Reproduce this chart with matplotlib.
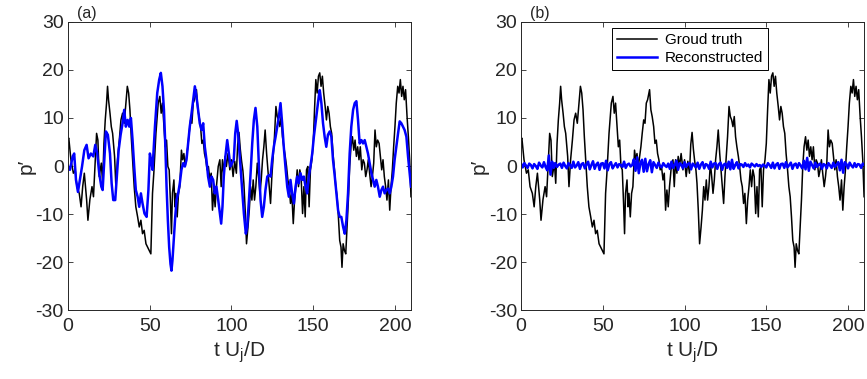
import numpy as np
import matplotlib
matplotlib.use('Agg')
import matplotlib.pyplot as plt

t_true = [0.0, 0.5, 1.8, 3.3, 4.4, 5.5, 6.9, 8.0, 9.0, 10.0, 11.4, 12.2, 13.4, 14.7, 15.6,
          16.7, 17.5, 18.3, 19.1, 20.4, 21.2, 22.0, 22.8, 23.6, 24.2, 24.8, 25.7, 26.5, 27.3,
          28.5, 29.3, 30.3, 31.4, 32.4, 33.4, 34.4, 35.4, 36.3, 37.1, 37.9, 38.7, 39.5, 40.5,
          41.5, 42.6, 43.6, 44.6, 45.6, 46.6, 47.7, 48.7, 49.7, 50.7, 51.7, 52.5, 53.8, 55.2,
          56.2, 57.0, 57.8, 58.7, 59.5, 60.3, 61.1, 61.9, 62.7, 63.3, 63.9, 64.8, 65.4, 66.0,
          66.8, 67.6, 68.4, 69.4, 70.1, 70.9, 71.7, 72.5, 73.3, 74.1, 75.0, 75.8, 76.6, 77.4,
          78.6, 79.4, 80.2, 81.1, 81.9, 82.7, 83.5, 84.3, 85.1, 85.9, 86.8, 87.6, 88.4, 89.2,
          90.0, 90.8, 91.9, 92.9, 93.7, 94.5, 95.3, 96.1, 96.9, 97.9, 99.0, 100.0, 101.0,
          102.0, 103.0, 103.8, 104.6, 105.4, 106.2, 107.0, 107.6, 108.4, 109.2, 110.1, 110.9,
          111.7, 112.5, 113.3, 114.1, 114.9, 115.8, 116.6, 117.4, 118.2, 119.0, 119.8, 120.6,
          121.5, 122.3, 123.1, 123.9, 124.7, 125.5, 126.3, 127.2, 128.0, 128.8, 129.6, 130.4,
          131.2, 132.0, 132.9, 133.7, 134.5, 135.3, 136.1, 136.9, 137.8, 138.6, 139.4, 140.2,
          141.0, 141.8, 142.6, 143.5, 144.3, 145.1, 145.9, 146.7, 147.5, 148.3, 149.2, 150.0,
          150.8, 151.6, 152.4, 153.2, 154.0, 154.8, 155.6, 156.4, 157.3, 158.1, 158.9, 159.7,
          160.5, 161.3, 162.1, 163.0, 163.8, 164.6, 165.4, 166.2, 167.0, 167.6, 168.3, 169.1,
          169.9, 170.7, 171.5, 172.3, 173.1, 174.0, 174.8, 175.6, 176.4, 177.2, 178.0, 178.8,
          179.7, 180.5, 181.3, 182.1, 182.9, 183.7, 184.5, 185.4, 186.2, 187.0, 187.8, 188.6,
          189.4, 190.3, 191.1, 191.9, 192.7, 193.5, 194.3, 195.1, 196.0, 196.8, 197.6, 198.4,
          199.2, 200.0, 200.8, 201.7, 202.5, 203.3, 204.1, 204.9, 205.7, 206.5, 207.4, 208.2,
          209.0, 209.8]
p_true = [5.5, 5.8, 1.3, -1.5, -0.8, -4.3, -5.7, -8.5, -4.3, -1.5, -7.0, -11.3, -7.0, -4.3, -6.4,
          1.3, 6.8, 5.4, -2.2, 0.6, -3.6, 4.7, 9.6, 13.1, 16.6, 13.8, 11.0, 8.2, 6.8,
          2.0, -4.3, 1.3, 5.4, 9.6, 11.0, 8.9, 13.1, 16.6, 15.2, 11.7, 6.1, 1.3, -4.3,
          -8.5, -10.6, -12.7, -11.3, -14.1, -13.4, -16.2, -16.9, -17.6, -18.3, -5.7, -1.5, 6.8, 13.1,
          14.5, 11.0, 13.1, 8.2, 4.0, 5.4, -0.1, -0.8, -7.8, -14.1, -5.7, -2.9, -8.5, -5.7,
          -10.6, -5.7, -4.3, 3.3, 1.3, 2.6, -0.1, 2.0, 4.0, 6.8, 9.6, 8.9, 13.1, 13.8,
          15.9, 11.7, 10.3, 8.2, 4.7, 5.4, 2.6, 1.3, -0.8, -0.1, -2.9, -1.5, -9.2, -5.0,
          -8.5, -4.3, -0.1, 1.3, -4.3, 1.3, -1.5, 2.0, -0.1, 2.6, -0.8, 1.3, -2.2,
          1.0, -1.5, 4.5, 7.0, 3.5, 1.0, -1.0, -3.6, -9.2, -16.2, -12.7, -9.2,
          -4.3, -7.1, -2.9, -7.1, -4.3, 0.6, -2.2, -5.7, -2.9, 1.3, 4.0, 7.5,
          2.6, -0.8, -4.3, -7.8, -2.2, 2.0, 6.1, 12.4, 10.3, 9.6, 8.2, 10.3,
          6.1, 4.0, 2.0, -0.1, -2.9, -4.3, -7.8, -5.7, -12.0, -7.1, -4.3, -0.8,
          -4.3, -0.8, -2.2, -9.9, -4.3, -10.6, -0.8, -0.1, -8.5, -0.8, 1.3, 4.7,
          11.7, 18.0, 15.2, 18.7, 19.4, 16.6, 18.7, 15.2, 12.4, 9.6, 12.4, 11.0,
          8.2, 6.8, 2.6, -0.8, -4.3, -6.4, -10.6, -15.5, -16.9, -21.1, -16.2, -17.6,
          -18.3, -12.7, -7.1, -0.1, 4.0, 6.1, 3.3, 5.4, 2.0, 4.0, 1.3, 4.0,
          -0.8, 1.3, 0.6, -2.2, -0.8, 1.3, -1.5, -4.3, -2.2, 0.6, 7.5, 4.0,
          5.4, 4.7, 2.0, -0.8, 1.3, -2.2, -4.3, -7.1, -2.9, -9.2, -4.3, -0.8,
          4.0, 8.2, 13.1, 16.6, 15.2, 18.0, 14.5, 16.6, 13.8, 15.9, 10.3, 6.1,
          1.3, -6.4]

# reconstruction (a)
t_rec_a = [0.0, 1.2, 2.9, 3.8, 4.9, 6.1, 7.3, 8.6, 10.0, 11.4, 12.6, 14.0, 15.5, 16.7, 17.9,
           19.1, 20.4, 21.2, 22.2, 23.2, 24.4, 25.7, 26.7, 27.7, 28.9, 29.9, 31.0, 32.2, 33.4,
           34.4, 35.4, 36.5, 37.5, 38.5, 39.5, 40.5, 41.5, 42.6, 43.6, 44.6, 45.6, 46.8, 48.1,
           49.2, 50.1, 51.0, 51.7, 53.2, 54.6, 55.8, 56.8, 57.8, 58.7, 59.5, 60.3, 61.1, 61.9,
           62.7, 63.3, 63.9, 64.8, 65.6, 66.4, 67.4, 68.4, 69.4, 70.5, 71.5, 72.5, 73.5, 74.5,
           75.6, 76.6, 77.6, 78.6, 79.6, 80.6, 81.7, 82.7, 83.7, 84.7, 85.7, 86.8, 87.8, 88.8,
           89.8, 90.8, 91.9, 92.9, 93.7, 94.5, 95.3, 96.3, 97.4, 98.4, 99.4, 100.4, 101.4,
           102.3, 103.2, 104.0, 105.2, 106.4, 107.6, 108.8, 109.6, 110.7, 111.7, 112.7, 113.7,
           114.7, 115.8, 116.8, 117.8, 118.8, 119.8, 120.8, 121.9, 122.9, 123.9, 124.9, 125.9,
           127.0, 128.0, 129.0, 130.0, 131.0, 132.0, 133.0, 134.1, 135.1, 136.1, 137.1, 138.2,
           139.2, 140.2, 141.2, 142.2, 143.3, 144.3, 145.3, 146.3, 147.3, 148.3, 149.4, 150.4,
           151.4, 152.4, 153.4, 154.0, 155.0, 156.0, 157.0, 158.0, 159.0, 160.1, 161.1, 162.1,
           163.2, 164.2, 165.2, 166.2, 167.2, 168.3, 169.3, 170.3, 171.3, 172.3, 173.3, 174.4,
           175.4, 176.4, 177.4, 178.4, 179.5, 180.5, 181.5, 182.5, 183.5, 184.5, 185.6, 186.6,
           187.6, 188.6, 189.6, 190.7, 191.7, 192.7, 193.7, 194.7, 195.8, 196.8, 197.8, 198.8,
           199.8, 200.8, 201.9, 202.9, 203.9, 204.9, 205.9, 207.0, 208.0, 209.0, 209.8]
p_rec_a = [0.0, -0.8, 2.0, 2.6, -2.9, -5.4, -2.9, -0.1, 3.3, 4.4, 1.6, 2.6, 2.0, 4.4, 2.6,
           -1.5, -4.3, -5.0, 1.3, 7.2, 6.5, 2.6, -3.6, -7.1, -7.1, -2.2, 3.3, 6.5, 8.9,
           11.7, 8.2, 9.6, 8.2, 10.0, 5.4, -0.1, -5.0, -6.4, -8.5, -5.7, -7.8, -9.9, -10.6,
           -5.0, 2.6, 1.0, -0.8, 8.2, 15.2, 18.0, 19.4, 16.6, 11.7, 4.7, -4.3, -11.3, -16.9,
           -20.4, -21.8, -19.7, -14.8, -10.6, -7.1, -5.7, -3.6, -0.8, 0.6, -0.1, 1.3, 4.7, 8.2,
           11.0, 13.8, 16.6, 14.5, 11.7, 8.9, 7.5, 8.9, 4.0, 1.3, -2.2, -4.3, -2.2, -2.9,
           -5.7, -4.3, -7.1, -9.9, -12.0, -8.5, -2.2, 2.0, 5.4, 2.6, -0.1, 0.6, 1.3,
           6.8, 9.4, 7.0, 1.3, -4.3, -9.9, -14.1, -12.7, -7.1, -1.5, 4.7, 9.6,
           12.1, 8.2, -0.1, -7.1, -10.6, -8.5, -5.0, -2.2, -1.9, -2.2, 1.3, 4.0,
           6.1, 8.2, 10.3, 13.1, 8.9, 4.0, -0.1, -4.3, -6.4, -2.9, -5.7, -7.8,
           -4.3, -2.2, -3.6, -1.5, -2.9, -2.2, -4.3, -5.7, -2.2, -0.1, 2.6, 6.1,
           8.9, 11.7, 14.5, 15.8, 13.1, 8.9, 6.1, 4.0, 6.5, 7.2, 6.1, 1.3,
           -2.2, -5.7, -9.2, -10.6, -10.6, -12.7, -14.1, -11.3, -5.7, 2.6, 8.2, 11.7,
           13.1, 13.5, 9.6, 4.7, 5.4, 4.7, 5.4, 4.0, 2.6, 0.6, -1.5, -2.9,
           -4.3, -2.9, -4.3, -6.4, -5.0, -4.3, -5.7, -5.0, -4.7, -5.7, -4.3, -2.2,
           1.3, 4.0, 6.8, 9.3, 8.9, 8.2, 7.5, 6.1, 2.0, -1.5, -4.3]

# reconstruction (b), one value per unit of t from 0 to 210
t_rec_b = list(range(0, 211))
p_rec_b = [0.5, -0.3, 0.6, 0.1, -0.4, 0.5, 0.2, -0.5, 0.4, 0.0,
           -0.6, 0.7, 0.1, -0.3, 0.8, -0.2, -0.9, 2.2, -1.8, 0.9,
           -0.4, 0.6, -0.2, 0.3, 0.5, -0.4, 0.7, 0.0, -0.5, 0.6,
           0.2, -0.4, 0.9, -0.3, 0.1, 0.8, -0.6, 0.4, 0.6, -0.5,
           0.3, 0.9, -0.7, 0.2, 1.0, -0.6, 0.3, 0.7, -0.8, 0.5,
           0.6, -0.5, 1.1, -0.9, 0.4, 0.8, -0.5, 0.1, 0.6, -0.3,
           0.4, 0.2, -0.2, 0.9, -0.4, 0.3, 0.5, -0.1, 0.2, 1.4,
           -1.0, 1.8, -1.5, 0.6, 1.3, -1.2, 1.5, -1.1, 0.4, 1.2,
           -1.3, 0.8, 0.2, -0.4, 0.7, 0.0, -0.3, 0.6, 0.1, -0.2,
           0.5, -0.6, 0.9, -0.4, 0.2, 1.1, -0.8, 0.6, 0.3, -0.5,
           0.8, -0.2, 0.4, 0.6, -0.7, 0.5, 0.1, -0.3, 0.7, -0.6,
           0.3, 0.8, -0.5, 0.4, 0.2, -0.6, 0.9, -0.3, 0.5, 0.6,
           -0.6, 0.4, 0.7, -0.8, 0.3, 0.5, -0.4, 0.9, -0.7, 1.3,
           -0.6, 0.2, 0.8, -0.5, 0.4, 0.3, -0.2, 0.6, 0.0, 0.3,
           -0.3, 0.5, 0.2, -0.1, 0.4, 0.0, 0.2, -0.2, 0.3, 0.1,
           -0.3, 0.6, 0.2, -0.4, 0.7, -0.5, 0.3, 0.6, -0.6, 0.4,
           0.5, -0.4, 0.8, -0.3, 0.2, 0.7, -0.6, 0.3, 0.5, -0.4,
           0.6, 0.1, -0.5, 1.1, -0.7, 1.7, -1.0, 0.9, 0.2, -0.5,
           0.7, -0.2, 0.3, 0.5, -0.6, 0.4, 0.2, -0.5, 0.6, 0.1,
           -0.4, 0.7, -0.2, 0.3, 0.8, -0.9, 1.3, -1.4, 0.8, 0.4,
           -0.5, 0.7, 0.1, -0.3, 0.6, -0.2, 0.4, 0.3, -0.4, 0.5,
           0.2]

x_ticks = [0, 50, 100, 150, 200]
y_ticks = [-30, -20, -10, 0, 10, 20, 30]
panel_tags = ['(a)', '(b)']

plt.rcParams['font.family'] = ['Liberation Sans', 'DejaVu Sans']
plt.rcParams['mathtext.default'] = 'regular'
plt.rcParams['axes.unicode_minus'] = False

gray = '#262626'

fig = plt.figure(figsize=(8.67, 3.79), dpi=100)
ax_a = fig.add_axes([0.0784, 0.182, 0.396, 0.760])
ax_b = fig.add_axes([0.601, 0.182, 0.396, 0.760])

ax_a.plot(t_true, p_true, color='k', lw=1.1)
ax_a.plot(t_rec_a, p_rec_a, color='#0000ff', lw=1.8)

ax_b.plot(t_true, p_true, color='k', lw=1.1, label='Groud truth')
ax_b.plot(t_rec_b, p_rec_b, color='#0000ff', lw=1.8, label='Reconstructed')

for ax, tag in zip([ax_a, ax_b], panel_tags):
    ax.set_xlim(0, 210)
    ax.set_ylim(-30, 30)
    ax.set_xticks(x_ticks)
    ax.set_yticks(y_ticks)
    ax.tick_params(direction='in', top=True, right=True, length=3.5, width=0.6,
                   labelsize=14, colors=gray, pad=3)
    ax.tick_params(axis='x', pad=6)
    for s in ax.spines.values():
        s.set_color(gray)
        s.set_linewidth(0.7)
    ax.set_xlabel('t U$_j$/D', fontsize=15, color=gray, labelpad=3)
    ax.set_ylabel('p\u2032', fontsize=15, color=gray, labelpad=0)
    ax.text(0.026, 1.004, tag, transform=ax.transAxes, fontsize=11.5,
            va='bottom', ha='left', color=gray)

leg = ax_b.legend(loc='upper left', bbox_to_anchor=(0.265, 0.98), fontsize=11,
                  frameon=True, fancybox=False, framealpha=1, edgecolor='k',
                  handlelength=2.6, labelspacing=0.25, borderpad=0.35,
                  handletextpad=0.5, borderaxespad=0)
leg.get_frame().set_linewidth(0.7)

fig.savefig('out.png', dpi=100)
